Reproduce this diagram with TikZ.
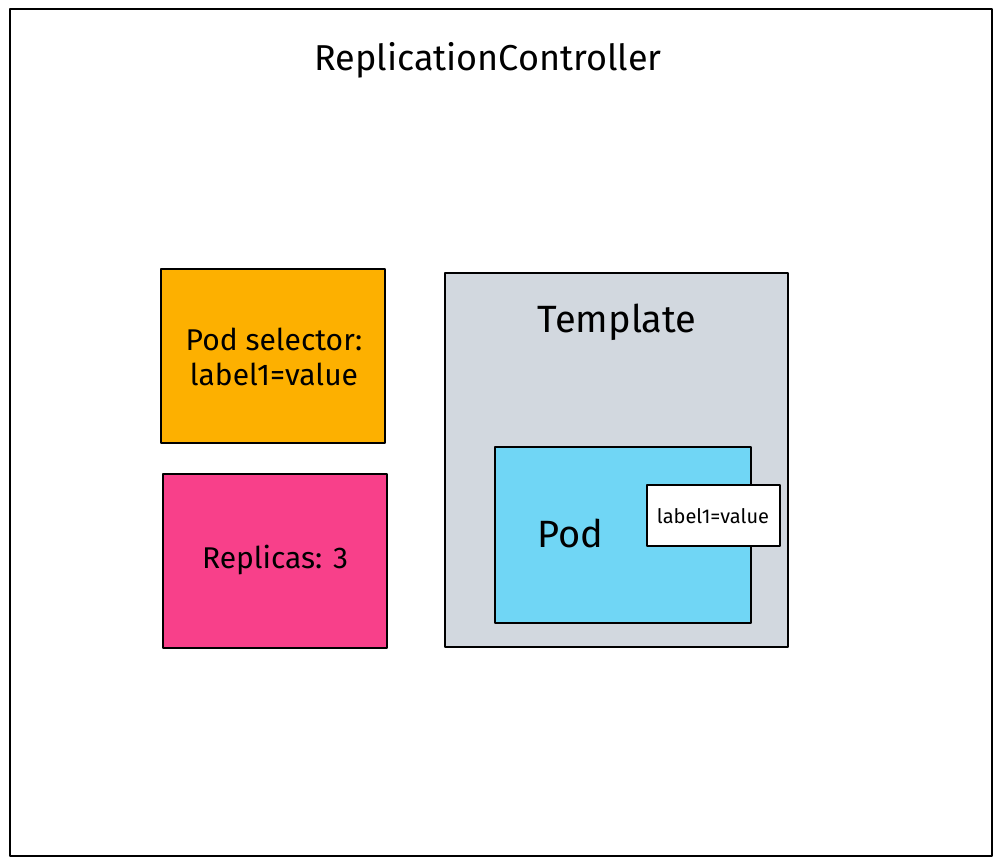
\documentclass[tikz,border=0pt]{standalone}
\usepackage{fontspec}
\setmainfont{Fira Sans}
\definecolor{orangebox}{HTML}{FDB000}
\definecolor{pinkbox}{HTML}{F8408A}
\definecolor{graybox}{HTML}{D2D8DF}
\definecolor{bluebox}{HTML}{70D6F5}
\tikzset{
  box/.style={draw=black, line width=2.5pt, line join=round},
  txt/.style={inner sep=0pt, text=black, align=center},
}
\begin{document}
\begin{tikzpicture}[x=1pt,y=-1pt]
\useasboundingbox (0,0) rectangle (1002,865);
\fill[white] (0,0) rectangle (1002,865);
\draw[box, fill=white] (10,9) rectangle (992,856);
\node[txt, font=\fontsize{36}{40}\selectfont] (title) at (488,60) {ReplicationController};
\draw[box, fill=orangebox] (161,269) rectangle (385,443);
\node[txt, font=\fontsize{30}{35}\selectfont] (sel) at (274,357) {Pod selector:\\label1=value};
\draw[box, fill=orangebox!0!pinkbox] (163,474) rectangle (387,648);
\node[txt, font=\fontsize{30}{34}\selectfont] (rep) at (275,560) {Replicas: 3};
\draw[box, fill=graybox] (445,273) rectangle (788,647);
\node[txt, font=\fontsize{38}{42}\selectfont] (tpl) at (617,322) {Template};
\draw[box, fill=bluebox] (495,447) rectangle (751,623);
\node[txt, font=\fontsize{38}{42}\selectfont] (pod) at (570,533) {Pod};
\draw[box, fill=white] (647,485) rectangle (780,546);
\node[txt, font=\fontsize{20}{24}\selectfont] (lbl) at (713,516) {label1=value};
\end{tikzpicture}
\end{document}
